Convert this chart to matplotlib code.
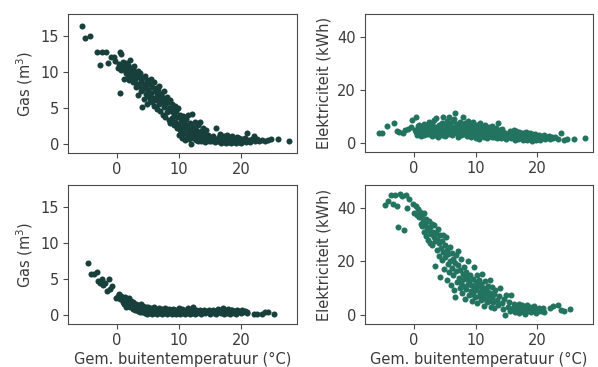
import matplotlib
matplotlib.use("Agg")
import matplotlib.pyplot as plt

# ---- Year A (top row) ----
temp_a = [-5.7, -5.2, -4.3, -3.2, -2.7, -2.4, -1.7, -1.5, -0.9, -0.5, -0.3, 0.2, 0.3, 0.4, 0.5, 0.6, 0.7, 0.9,
          1.0, 1.1, 1.2, 1.3, 1.4, 1.5, 1.6, 1.7, 1.8, 1.9, 2.0, 2.1, 2.2, 2.3, 2.4, 2.5, 2.6, 2.7, 2.8, 2.9,
          3.0, 3.1, 3.2, 3.3, 3.4, 3.5, 3.6, 3.7, 3.8, 3.9, 4.0, 4.1, 4.2, 4.3, 4.4, 4.5, 4.6, 4.7, 4.8, 4.9,
          5.0, 5.1, 5.2, 5.3, 5.4, 5.5, 5.6, 5.7, 5.8, 5.9, 6.0, 6.1, 6.2, 6.3, 6.4, 6.5, 6.6, 6.7, 6.8, 6.9,
          7.0, 7.1, 7.2, 7.3, 7.4, 7.5, 7.6, 7.7, 7.8, 7.9, 8.0, 8.1, 8.2, 8.3, 8.4, 8.5, 8.6, 8.7, 8.8, 8.9,
          9.0, 9.1, 9.2, 9.3, 9.4, 9.5, 9.6, 9.7, 9.8, 9.9, 10.0, 10.1, 10.2, 10.3, 10.4, 10.5, 10.6, 10.7,
          10.8, 10.9, 11.0, 11.1, 11.2, 11.3, 11.4, 11.5, 11.6, 11.7, 11.8, 11.9, 12.0, 12.1, 12.2, 12.3,
          12.4, 12.5, 12.6, 12.7, 12.8, 12.9, 13.0, 13.1, 13.2, 13.3, 13.4, 13.5, 13.6, 13.7, 13.8, 13.9,
          14.0, 14.1, 14.2, 14.3, 14.4, 14.6, 14.8, 15.0, 15.2, 15.4, 15.6, 15.8, 16.0, 16.1, 16.2, 16.4,
          16.5, 16.6, 16.7, 16.8, 16.9, 17.0, 17.1, 17.2, 17.3, 17.4, 17.5, 17.6, 17.7, 17.8, 17.9, 18.0,
          18.1, 18.2, 18.3, 18.4, 18.5, 18.6, 18.7, 18.8, 18.9, 19.0, 19.1, 19.2, 19.3, 19.4, 19.5, 19.6,
          19.7, 19.8, 20.0, 20.2, 20.4, 20.6, 20.8, 21.0, 21.2, 21.5, 21.8, 22.0, 22.3, 22.6, 22.9, 23.3,
          23.8, 24.3, 24.8, 25.9, 27.7]
gas_a = [16.4, 14.7, 15.0, 12.8, 11.0, 12.8, 12.8, 11.2, 12.1, 12.0, 11.5, 10.6, 11.1, 12.8, 7.1, 12.5, 10.2, 11.4,
         10.8, 11.0, 9.0, 10.3, 11.2, 9.8, 10.5, 9.5, 11.0, 10.0, 8.9, 11.6, 9.7, 10.6, 9.2, 10.2, 8.6, 9.9, 10.8, 9.0,
         7.9, 9.6, 8.4, 10.1, 6.8, 9.3, 8.0, 9.8, 7.4, 8.7, 5.2, 9.1, 7.7, 8.4, 6.3, 9.5, 7.0, 8.1, 5.6, 8.9,
         7.5, 6.6, 8.3, 6.0, 9.0, 7.1, 5.8, 7.9, 6.4, 8.6, 5.3, 7.3, 6.1, 7.8, 4.9, 6.8, 7.5, 5.5, 8.1, 6.3,
         4.6, 7.0, 5.9, 6.6, 4.0, 7.4, 5.2, 6.1, 3.8, 5.7, 6.5, 4.4, 5.9, 3.4, 5.0, 6.1, 2.9, 4.6, 5.6, 3.7,
         4.9, 2.6, 4.2, 5.3, 3.1, 4.6, 2.2, 3.8, 5.0, 2.8, 1.3, 4.1, 2.0, 3.3, 0.9, 2.5, 3.9, 1.6,
         2.9, 0.6, 2.2, 3.5, 1.1, 2.6, 4.0, 1.8, 0.8, 3.0, 2.1, 0.0, 1.4, 4.2, 2.4, 0.9,
         1.7, 3.1, 1.2, 0.6, 2.0, 1.0, 2.7, 0.5, 1.5, 3.1, 0.8, 1.9, 0.4, 1.2, 2.3, 0.7,
         1.6, 0.3, 1.0, 2.0, 0.6, 1.3, 0.5, 0.9, 0.4, 1.1, 0.6, 0.3, 2.2, 0.8, 0.4, 1.0,
         0.5, 1.4, 0.2, 0.7, 1.2, 0.4, 0.9, 0.3, 1.1, 0.6, 0.2, 0.8, 1.3, 0.4, 0.7, 0.3,
         1.0, 0.5, 0.2, 0.8, 0.4, 1.1, 0.6, 0.3, 0.9, 0.5, 0.2, 0.7, 1.0, 0.4, 0.6, 0.3,
         0.9, 0.5, 0.2, 0.7, 0.4, 0.9, 0.3, 1.5, 0.6, 0.3, 0.8, 1.1, 0.4, 0.7, 0.5, 0.6,
         0.5, 0.6, 0.8, 0.7, 0.5]
elec_a = [3.7, 3.8, 6.5, 7.5, 4.6, 4.3, 4.0, 4.8, 5.5, 6.0, 8.7, 5.0, 4.2, 10.0, 3.2, 6.5, 3.5, 7.0,
          5.2, 2.8, 4.5, 6.0, 3.8, 5.5, 7.2, 2.9, 4.0, 5.8, 6.8, 3.3, 4.9, 6.2, 3.6, 8.0, 5.1, 4.2, 6.6, 2.6,
          7.5, 5.3, 4.0, 8.7, 3.0, 6.0, 9.4, 4.6, 5.8, 2.4, 7.0, 3.9, 5.5, 6.8, 4.3, 3.1, 7.7, 5.0, 9.7, 4.1,
          6.3, 2.7, 5.6, 8.2, 4.4, 6.9, 3.5, 10.0, 5.2, 7.4, 4.0, 6.1, 3.0, 8.5, 5.6, 9.2, 4.5, 11.5, 6.4, 3.8,
          7.2, 5.0, 2.4, 6.7, 4.2, 8.0, 5.4, 3.2, 6.2, 4.6, 10.0, 5.8, 3.6, 7.4, 4.9, 6.6, 2.8, 8.3, 5.2, 3.9,
          7.0, 4.3, 6.0, 2.5, 5.5, 7.8, 3.7, 6.4, 4.7, 2.9, 5.9, 1.9, 4.2, 6.8, 3.3, 5.1, 1.6, 7.5,
          3.8, 4.8, 2.6, 6.2, 3.5, 5.4, 2.2, 4.6, 6.7, 3.0, 5.0, 1.8, 4.1, 6.1, 2.7, 5.6,
          3.4, 4.6, 2.2, 6.5, 3.7, 5.0, 2.4, 4.3, 3.1, 5.8, 2.0, 4.5, 7.5, 3.3, 2.5, 4.9,
          3.6, 1.8, 5.2, 3.0, 4.1, 2.3, 3.8, 1.5, 3.2, 2.6, 4.4, 1.9, 3.6, 2.4, 5.1, 1.2,
          3.0, 4.7, 2.1, 3.6, 1.5, 2.8, 4.2, 1.8, 3.2, 2.4, 4.0, 1.3, 3.4, 2.2, 3.8, 1.6,
          2.9, 4.1, 1.1, 2.6, 3.5, 1.7, 2.3, 3.9, 1.4, 2.7, 1.0, 3.3, 2.0, 1.5, 2.8, 3.6,
          1.2, 2.3, 1.7, 3.0, 1.3, 2.5, 1.8, 2.9, 1.4, 2.2, 2.7, 1.6, 2.3, 1.9, 2.5, 1.6,
          4.0, 1.3, 1.5, 1.5, 2.1]

# ---- Year B (bottom row) ----
temp_b = [-4.7, -4.2, -3.7, -3.3, -3.0, -2.8, -2.5, -2.2, -1.9, -1.6, -1.3, -1.1, -0.8, -0.1, 0.1, 0.3, 0.5, 0.7,
          0.9, 1.0, 1.1, 1.2, 1.3, 1.4, 1.5, 1.6, 1.7, 1.8, 1.9, 2.0, 2.1, 2.2, 2.3, 2.4, 2.5, 2.6, 2.7, 2.8,
          2.9, 3.0, 3.1, 3.2, 3.3, 3.4, 3.5, 3.6, 3.7, 3.8, 3.9, 4.0, 4.1, 4.2, 4.3, 4.4, 4.5, 4.6, 4.7, 4.8,
          4.9, 5.0, 5.1, 5.2, 5.3, 5.4, 5.5, 5.6, 5.7, 5.8, 5.9, 6.0, 6.1, 6.2, 6.3, 6.4, 6.5, 6.6, 6.7, 6.8,
          6.9, 7.0, 7.1, 7.2, 7.3, 7.4, 7.5, 7.6, 7.7, 7.8, 7.9, 8.0, 8.1, 8.2, 8.3, 8.4, 8.5, 8.6, 8.7, 8.8,
          8.9, 9.0, 9.1, 9.2, 9.3, 9.4, 9.5, 9.6, 9.7, 9.8, 9.9, 10.0, 10.1, 10.2, 10.3, 10.4, 10.5, 10.6,
          10.7, 10.8, 10.9, 11.0, 11.1, 11.2, 11.3, 11.4, 11.5, 11.6, 11.7, 11.8, 11.9, 12.0, 12.1, 12.2,
          12.3, 12.4, 12.5, 12.6, 12.7, 12.8, 12.9, 13.0, 13.2, 13.4, 13.6, 13.8, 14.0, 14.2, 14.4, 14.6,
          14.8, 15.0, 15.2, 15.4, 15.6, 15.8, 16.0, 16.2, 16.4, 16.6, 16.8, 17.0, 17.1, 17.2, 17.4, 17.5,
          17.6, 17.8, 17.9, 18.0, 18.2, 18.3, 18.5, 18.6, 18.8, 19.0, 19.1, 19.3, 19.5, 19.7, 19.9, 20.1,
          20.3, 20.6, 20.9, 21.0, 22.0, 22.6, 23.4, 23.9, 24.3, 25.3]
gas_b = [7.2, 5.7, 5.7, 6.0, 4.8, 4.4, 5.0, 4.2, 4.4, 3.3, 5.0, 3.7, 4.1, 2.4, 2.7, 3.0, 2.3, 2.6,
         1.8, 2.4, 1.5, 2.1, 2.5, 1.2, 2.0, 1.6, 2.3, 1.3, 1.9, 2.4, 1.1, 1.7, 2.0, 1.4, 0.9, 1.8, 1.2, 1.5,
         0.7, 1.6, 1.0, 1.3, 0.6, 1.4, 0.9, 1.2, 0.5, 1.5, 0.8, 1.1, 0.4, 1.3, 0.7, 1.0, 0.3, 1.2, 0.6, 0.9,
         0.2, 1.1, 0.5, 0.8, 0.3, 1.0, 0.6, 0.2, 0.9, 0.4, 1.1, 0.7, 0.3, 0.9, 0.5, 0.2, 0.8, 0.4, 1.0, 0.6,
         0.3, 0.8, 0.5, 0.2, 0.9, 0.6, 0.3, 0.7, 1.0, 0.4, 0.6, 0.2, 0.8, 0.5, 0.3, 0.9, 0.6, 0.4, 0.7, 0.2,
         0.5, 0.9, 0.3, 0.6, 0.4, 0.8, 0.2, 0.5, 0.7, 0.3, 0.6, 1.0, 0.4, 0.2, 0.7, 0.5, 0.9, 0.3,
         0.6, 0.4, 0.8, 0.2, 0.5, 0.7, 0.3, 0.6, 1.0, 0.4, 0.7, 0.2, 0.5, 0.8, 0.3, 1.1,
         0.6, 0.4, 0.7, 0.2, 0.5, 0.8, 0.3, 0.6, 0.4, 0.7, 0.2, 0.5, 0.8, 0.3, 0.6, 0.4,
         0.7, 0.2, 0.5, 0.8, 0.3, 0.6, 0.2, 0.9, 0.4, 0.7, 0.3, 1.0, 0.5, 0.2, 0.8, 0.4,
         0.6, 0.3, 0.9, 0.5, 0.2, 0.7, 0.4, 0.8, 0.3, 0.6, 0.2, 0.8, 0.4, 0.6, 0.3, 0.7,
         0.4, 0.6, 0.3, 0.5, 0.15, 0.2, 0.2, 0.4, 0.5, 0.15]
elec_b = [41.0, 42.7, 44.8, 41.5, 44.9, 40.6, 33.0, 45.2, 44.5, 31.9, 44.6, 40.0, 43.2, 41.5, 38.0, 40.8, 37.2, 39.5,
          36.5, 38.6, 34.0, 36.8, 33.1, 37.5, 35.2, 31.0, 38.0, 33.8, 29.5, 36.0, 32.3, 34.9, 28.0, 31.5, 35.0, 27.0, 32.8, 30.2,
          34.0, 26.1, 31.0, 29.0, 33.6, 18.3, 27.6, 30.5, 24.4, 28.5, 32.0, 22.0, 26.8, 29.8, 14.4, 24.9, 27.6, 20.5, 30.0, 23.4,
          17.2, 26.0, 21.6, 29.0, 13.0, 24.2, 19.0, 22.7, 16.0, 25.5, 20.0, 11.4, 23.0, 17.5, 21.0, 14.8, 9.5, 19.6, 6.9, 22.5,
          16.5, 12.5, 18.6, 23.8, 14.0, 10.2, 17.0, 20.8, 12.0, 8.4, 15.5, 11.0, 18.0, 13.4, 6.0, 16.0, 9.8, 14.2, 11.6, 20.0,
          7.5, 12.8, 15.0, 9.0, 11.2, 5.2, 13.6, 8.0, 17.8, 10.4, 6.6, 12.2, 9.2, 14.8, 4.4, 10.8, 7.2, 13.0,
          8.8, 11.6, 5.8, 9.6, 15.2, 7.0, 10.0, 3.4, 8.4, 12.8, 6.2, 9.0, 4.8, 11.0, 7.6, 5.4,
          13.0, 8.2, 3.0, 6.8, 10.4, 4.8, 7.8, 2.6, 9.2, 5.6, 3.8, 7.0, 10.2, 4.4, 2.2, 6.0,
          0.2, 7.6, 3.0, 5.0, 1.4, 7.6, 2.6, 4.0, 1.0, 3.4, 2.0, 4.2, 0.8, 2.8, 1.6, 3.6,
          2.2, 1.2, 3.0, 0.6, 2.4, 3.8, 1.4, 2.0, 3.2, 1.0, 2.6, 1.8, 3.4, 0.8, 2.2, 1.4,
          2.8, 1.6, 2.8, 1.2, 2.8, 3.4, 3.7, 2.0, 1.5, 2.2]

x_label = "Gem. buitentemperatuur (°C)"
gas_label = "Gas (m$^3$)"
elec_label = "Elektriciteit (kWh)"
gas_color = "#173f3b"
elec_color = "#22735f"
text_color = "#3a3a3a"
spine_color = "#4a4a4a"

plt.rcParams.update({
    "font.family": "DejaVu Sans",
    "font.size": 10.5,
    "axes.edgecolor": spine_color,
    "axes.labelcolor": text_color,
    "xtick.color": spine_color,
    "ytick.color": spine_color,
    "xtick.labelcolor": text_color,
    "ytick.labelcolor": text_color,
})

fig = plt.figure(figsize=(5.98, 3.67), dpi=100)
fig.patch.set_facecolor("white")
W, H = 598, 367

def add_ax(l, t, r, b):
    return fig.add_axes([l / W, 1 - b / H, (r - l) / W, (b - t) / H])

ax_ga = add_ax(68, 14, 297, 153)
ax_ea = add_ax(365, 14, 593, 152)
ax_gb = add_ax(68, 185, 297, 324)
ax_eb = add_ax(365, 185, 593, 324)

ms = 19
ax_ga.scatter(temp_a, gas_a, s=ms, color=gas_color, linewidths=0)
ax_ea.scatter(temp_a, elec_a, s=ms, color=elec_color, linewidths=0)
ax_gb.scatter(temp_b, gas_b, s=ms, color=gas_color, linewidths=0)
ax_eb.scatter(temp_b, elec_b, s=ms, color=elec_color, linewidths=0)

for ax in (ax_ga, ax_ea, ax_gb, ax_eb):
    ax.set_xlim(-7.9, 29.0)
    ax.set_xticks([0, 10, 20])
    ax.tick_params(direction="out", length=3.5, width=0.8, labelsize=10.5, pad=3)
    for sp in ax.spines.values():
        sp.set_linewidth(0.8)

for ax in (ax_ga, ax_gb):
    ax.set_ylim(-1.2, 18.0)
    ax.set_yticks([0, 5, 10, 15])
    ax.set_ylabel(gas_label, labelpad=4)
for ax in (ax_ea, ax_eb):
    ax.set_ylim(-3.3, 48.5)
    ax.set_yticks([0, 20, 40])
    ax.set_ylabel(elec_label, labelpad=4)
for ax in (ax_gb, ax_eb):
    ax.set_xlabel(x_label, labelpad=3)

fig.savefig("out.png", dpi=100)
